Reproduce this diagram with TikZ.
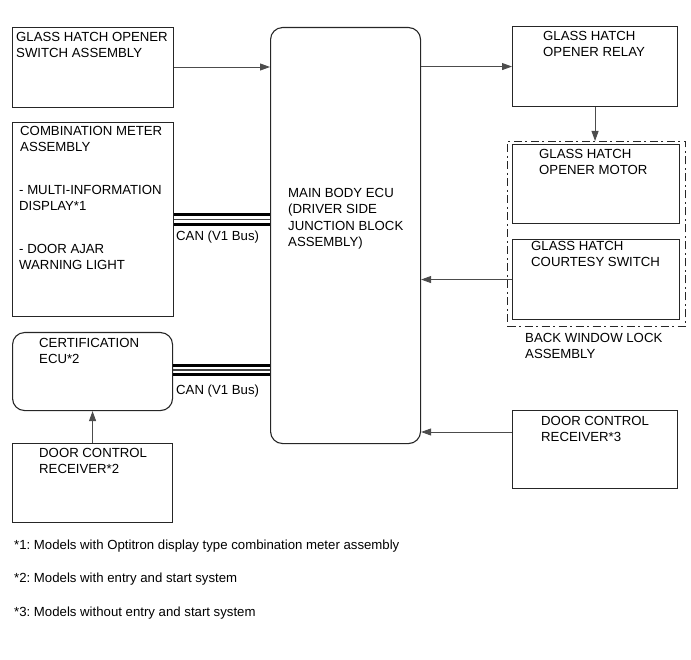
\documentclass[tikz,border=0pt]{standalone}
\usepackage{fontspec}
\setmainfont{Liberation Sans}
\usetikzlibrary{arrows.meta}
\frenchspacing
\begin{document}
\begin{tikzpicture}[x=1pt,y=-1pt,
  box/.style={draw=black!85,line width=1.1pt,anchor=north west,inner sep=0pt,fill=none},
  rbox/.style={box,rounded corners=12pt},
  txt/.style={anchor=north west,inner sep=0pt,align=left,font=\fontsize{13.2}{16.5}\selectfont},
  arr/.style={draw=black!70,line width=0.9pt,-{Triangle[length=10pt,width=7pt]}},
  canthick/.style={draw=black,line width=2.6pt},
  canthin/.style={draw=black!75,line width=1.4pt},
  dashbox/.style={draw=black!85,line width=1pt,dash pattern=on 8pt off 3.5pt on 2pt off 3.5pt,anchor=north west,inner sep=0pt}]
\useasboundingbox (0,0) rectangle (691,660);
% boxes
\node[box,minimum width=161pt,minimum height=80pt] (sw) at (12,27) {};
\node[box,minimum width=161pt,minimum height=194pt] (meter) at (12,122) {};
\node[rbox,minimum width=160pt,minimum height=78pt] (cert) at (12,332) {};
\node[box,minimum width=160pt,minimum height=79pt] (dcr2) at (12,443) {};
\node[rbox,minimum width=150pt,minimum height=416pt] (ecu) at (270,27) {};
\node[box,minimum width=165pt,minimum height=80pt] (relay) at (512,26) {};
\node[dashbox,minimum width=178pt,minimum height=185pt] (bwl) at (507,141) {};
\node[box,minimum width=167pt,minimum height=79pt] (motor) at (512,144) {};
\node[box,minimum width=167pt,minimum height=80pt] (cour) at (512,239) {};
\node[box,minimum width=165pt,minimum height=78pt] (dcr3) at (512,410) {};
% texts
\node[txt] (tsw) at (16,32) {GLASS HATCH OPENER\\SWITCH ASSEMBLY};
\node[txt] (tm1) at (20,126) {COMBINATION METER\\ASSEMBLY};
\node[txt] (tm2) at (19,185) {- MULTI-INFORMATION\\DISPLAY*1};
\node[txt] (tm3) at (19,244) {- DOOR AJAR\\WARNING LIGHT};
\node[txt] (tecu) at (288,188) {MAIN BODY ECU\\(DRIVER SIDE\\JUNCTION BLOCK\\ASSEMBLY)};
\node[txt] (tcert) at (39,338) {CERTIFICATION\\ECU*2};
\node[txt] (tdcr2) at (39,448) {DOOR CONTROL\\RECEIVER*2};
\node[txt] (trelay) at (543,31) {GLASS HATCH\\OPENER RELAY};
\node[txt] (tmotor) at (539,149) {GLASS HATCH\\OPENER MOTOR};
\node[txt] (tcour) at (531,241) {GLASS HATCH\\COURTESY SWITCH};
\node[txt] (tbwl) at (525,333) {BACK WINDOW LOCK\\ASSEMBLY};
\node[txt] (tdcr3) at (541,416) {DOOR CONTROL\\RECEIVER*3};
\node[txt] (can1) at (176,231) {CAN (V1 Bus)};
\node[txt] (can2) at (176,385) {CAN (V1 Bus)};
\node[txt] (fn1) at (14,540) {*1: Models with Optitron display type combination meter assembly};
\node[txt] (fn2) at (14,573) {*2: Models with entry and start system};
\node[txt] (fn3) at (14,607) {*3: Models without entry and start system};
% connectors
\draw[arr] ([yshift=-40pt]sw.north east) -- ([yshift=-40pt]sw.north east -| ecu.west);
\draw[arr] (relay.west -| ecu.east) -- (relay.west);
\draw[arr] (relay.south) -- (relay.south |- bwl.north);
\draw[arr] (cour.west) -- (cour.west -| ecu.east);
\draw[arr] ([yshift=-22pt]dcr3.north west) -- ([yshift=-22pt]dcr3.north west -| ecu.east);
\draw[arr] (dcr2.north) -- (cert.south);
% CAN buses
\draw[canthick] ([yshift=5pt]meter.east) -- ([yshift=5pt]meter.east -| ecu.west);
\draw[canthin] (meter.east) -- (meter.east -| ecu.west);
\draw[canthick] ([yshift=-5pt]meter.east) -- ([yshift=-5pt]meter.east -| ecu.west);
\draw[canthick] ([yshift=6pt]cert.east) -- ([yshift=6pt]cert.east -| ecu.west);
\draw[canthin] ([yshift=1.5pt]cert.east) -- ([yshift=1.5pt]cert.east -| ecu.west);
\draw[canthick] ([yshift=-3pt]cert.east) -- ([yshift=-3pt]cert.east -| ecu.west);
\end{tikzpicture}
\end{document}
